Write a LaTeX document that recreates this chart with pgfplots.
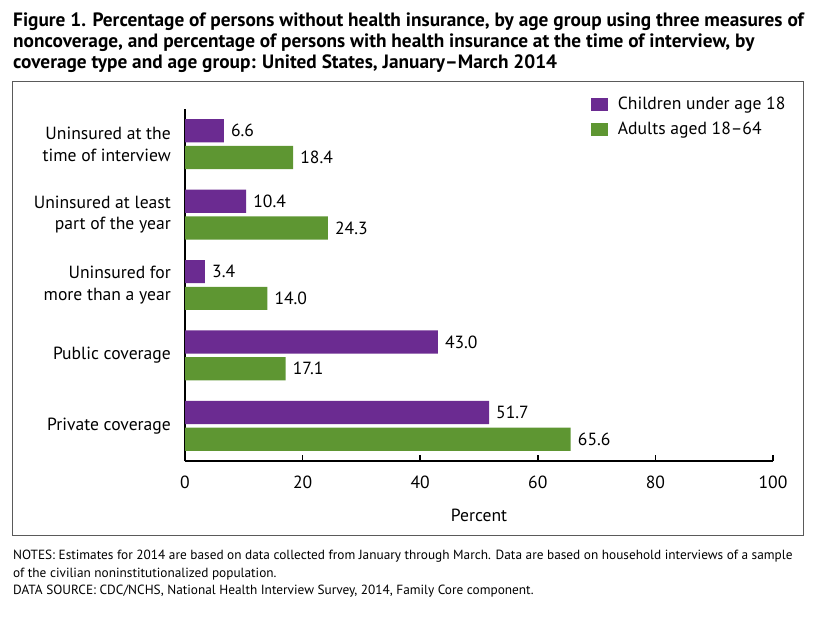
\documentclass[border=0pt]{standalone}
\usepackage{pgfplots}
\pgfplotsset{compat=1.18}
\usepackage{fontspec}
\setmainfont{PT Sans}
\definecolor{cpurple}{RGB}{107,43,145}
\definecolor{cgreen}{RGB}{94,150,50}
\definecolor{framegray}{RGB}{90,90,90}
\begin{document}
\begin{tikzpicture}[x=1bp,y=1bp]
\path (0,0) rectangle (836,-618);
\node[anchor=north west, inner sep=0, align=left, font=\fontsize{19.3bp}{21bp}\selectfont\bfseries] at (13,-13)
 {Figure 1. Percentage of persons without health insurance, by age group using three measures of\\
  noncoverage, and percentage of persons with health insurance at the time of interview, by\\
  coverage type and age group: United States, January--March 2014};
\draw[framegray, line width=1bp] (12.5,-81.5) rectangle (803,-535);
\node[anchor=north west, inner sep=0, align=left, font=\fontsize{13.3bp}{17.5bp}\selectfont] at (13,-550)
 {NOTES: Estimates for 2014 are based on data collected from January through March. Data are based on household interviews of a sample\\
  of the civilian noninstitutionalized population.\\
  DATA SOURCE: CDC/NCHS, National Health Interview Survey, 2014, Family Core component.};
\begin{axis}[
  at={(185bp,-461bp)}, anchor=south west,
  scale only axis, width=588bp, height=352bp,
  xmin=0, xmax=100, ymin=0.5, ymax=5.5,
  axis x line*=bottom, axis y line*=left,
  axis line style={line width=2bp, black},
  xtick={0,20,...,100},
  tick align=inside, major tick length=6bp,
  xtick style={line width=1.5bp, black},
  ytick={1,2,3,4,5},
  ytick style={draw=none},
  yticklabels={{Private coverage},{Public coverage},{Uninsured for\\more than a year},{Uninsured at least\\part of the year},{Uninsured at the\\time of interview}},
  yticklabel style={align=right, font=\fontsize{17.6bp}{21.5bp}\selectfont, inner sep=0pt, xshift=-8bp},
  xticklabel style={font=\fontsize{17.6bp}{19bp}\selectfont, inner sep=0pt, yshift=-15bp},
  /pgf/number format/assume math mode=true,
  xlabel={Percent},
  xlabel style={font=\fontsize{17.6bp}{19bp}\selectfont, inner sep=0pt, yshift=-20bp},
  xbar, bar width=0.33, bar shift=0pt,
  nodes near coords={\pgfmathprintnumber[fixed,zerofill,precision=1,assume math mode=true]{\pgfplotspointmeta}},
  every node near coord/.append style={font=\fontsize{17.6bp}{19bp}\selectfont, inner sep=0pt, anchor=west, xshift=7bp, black},
  legend style={at={(0.690,1.034)}, anchor=north west, draw=none, fill=none, inner sep=0pt,
    font=\fontsize{17.6bp}{19bp}\selectfont, row sep=11bp,
    nodes={inner sep=0pt},
    /tikz/every odd column/.append style={column sep=10bp}},
  legend cell align=left,
  legend image code/.code={\fill[#1] (0bp,-6.5bp) rectangle (17bp,6.5bp);},
  clip=false,
]
\addplot[fill=cpurple, draw=none] coordinates {(6.6,5.19) (10.4,4.19) (3.4,3.19) (43.0,2.19) (51.7,1.19)};
\addplot[fill=cgreen, draw=none] coordinates {(18.4,4.81) (24.3,3.81) (14.0,2.81) (17.1,1.81) (65.6,0.81)};
\legend{Children under age 18, Adults aged 18--64}
\end{axis}
\end{tikzpicture}
\end{document}
